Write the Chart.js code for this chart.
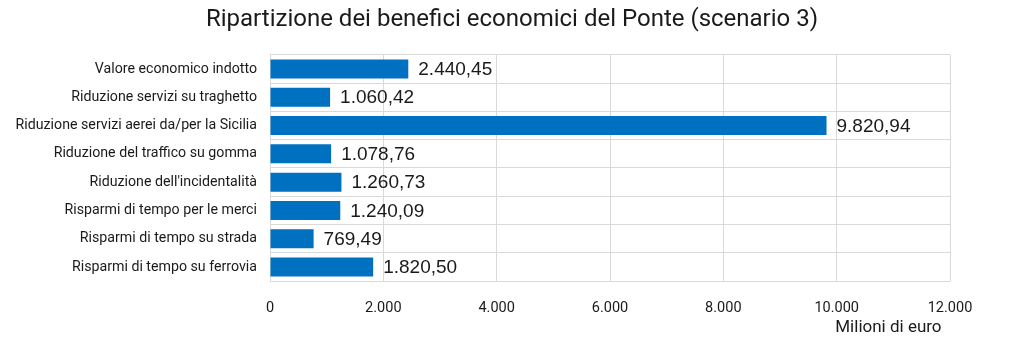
<!DOCTYPE html>
<html lang="it">
<head>
    <meta charset="UTF-8">
    <title>Ripartizione dei benefici economici del Ponte</title>
    <script src="https://cdn.jsdelivr.net/npm/chart.js"></script>
    <style>
        html, body { margin: 0; padding: 0; background: #fff; }
        .wrap { width: 1024px; height: 342px; }
    </style>
</head>
<body>
    <div class="wrap"><canvas id="benefici" width="1024" height="342"></canvas></div>
    <script>
        const categorie = [
            'Valore economico indotto',
            'Riduzione servizi su traghetto',
            'Riduzione servizi aerei da/per la Sicilia',
            'Riduzione del traffico su gomma',
            "Riduzione dell'incidentalità",
            'Risparmi di tempo per le merci',
            'Risparmi di tempo su strada',
            'Risparmi di tempo su ferrovia'
        ];
        const valori = [2440.45, 1060.42, 9820.94, 1078.76, 1260.73, 1240.09, 769.49, 1820.50];
        const tickX = [0, 2000, 4000, 6000, 8000, 10000, 12000];

        // formato italiano: punto per le migliaia, virgola per i decimali
        function formatIt(v, dec) {
            const parts = v.toFixed(dec).split('.');
            parts[0] = parts[0].replace(/\B(?=(\d{3})+(?!\d))/g, '.');
            return parts.join(',');
        }

        const etichette = {
            id: 'etichette',
            afterDatasetsDraw(chart) {
                const ctx = chart.ctx;
                const meta = chart.getDatasetMeta(0);
                ctx.save();
                ctx.font = '19px "Liberation Sans", Arial, sans-serif';
                ctx.fillStyle = '#1a1a1a';
                ctx.textBaseline = 'middle';
                ctx.textAlign = 'left';
                meta.data.forEach((bar, i) => {
                    ctx.fillText(formatIt(valori[i], 2), bar.x + 10, bar.y + 1);
                });
                ctx.restore();
            }
        };

        new Chart(document.getElementById('benefici'), {
            type: 'bar',
            data: {
                labels: categorie,
                datasets: [{
                    data: valori,
                    backgroundColor: '#0070c0',
                    barPercentage: 0.67,
                    categoryPercentage: 1
                }]
            },
            options: {
                indexAxis: 'y',
                responsive: false,
                animation: false,
                layout: { padding: { left: 13, right: 13, top: 0, bottom: 4 } },
                plugins: {
                    legend: { display: false },
                    tooltip: { enabled: false },
                    title: {
                        display: true,
                        text: 'Ripartizione dei benefici economici del Ponte (scenario 3)',
                        color: '#1a1a1a',
                        font: { family: 'Roboto', size: 24, weight: 'normal' },
                        padding: { top: 6, bottom: 20 }
                    }
                },
                scales: {
                    x: {
                        min: 0,
                        max: 12000,
                        afterBuildTicks(scale) { scale.ticks = tickX.map(v => ({ value: v })); },
                        grid: { color: '#d9d9d9', lineWidth: 1, drawTicks: false },
                        border: { display: false },
                        ticks: {
                            color: '#1a1a1a',
                            padding: 18,
                            font: { family: 'Roboto', size: 14.5 },
                            callback: v => formatIt(v, 0)
                        },
                        title: {
                            display: true,
                            text: 'Milioni di euro  ',
                            align: 'end',
                            color: '#1a1a1a',
                            font: { family: 'Roboto', size: 17 },
                            padding: { top: -17, bottom: 0 }
                        }
                    },
                    y: {
                        grid: { color: '#d9d9d9', lineWidth: 1, drawTicks: false, offset: true },
                        border: { display: false },
                        ticks: {
                            color: '#1a1a1a',
                            padding: 13,
                            font: { family: 'Roboto', size: 14.2 }
                        },
                        afterFit(scale) { scale.width = 257; }
                    },
                    // asse vuoto a destra, solo per lasciare il margine
                    margine: {
                        axis: 'y',
                        type: 'category',
                        position: 'right',
                        grid: { display: false },
                        border: { display: false },
                        ticks: { display: false },
                        afterFit(scale) { scale.width = 61; }
                    }
                }
            },
            plugins: [etichette]
        });
    </script>
</body>
</html>
